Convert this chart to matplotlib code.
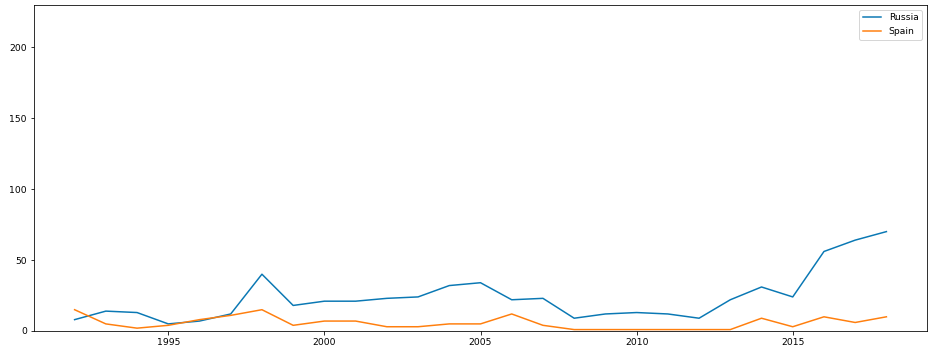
import matplotlib
matplotlib.use("Agg")
import matplotlib.pyplot as plt

years = list(range(1992, 2019))
russia = [8, 14, 13, 5, 7, 12, 40, 18, 21, 21, 23, 24, 32, 34, 22, 23, 9, 12, 13, 12, 9, 22, 31, 24, 56, 64, 70]
spain = [15, 5, 2, 4, 8, 11, 15, 4, 7, 7, 3, 3, 5, 5, 12, 4, 1, 1, 1, 1, 1, 1, 9, 3, 10, 6, 10]

dpi = 72
plt.rcParams["font.size"] = 9.3
fig = plt.figure(figsize=(932 / dpi, 352 / dpi), dpi=dpi)
ax = fig.add_axes([34 / 932, 1 - 331 / 352, (927 - 34) / 932, (331 - 5) / 352])
ax.plot(years, russia, color="#0a78b4", lw=1.5, label="Russia")
ax.plot(years, spain, color="#ff7f0e", lw=1.5, label="Spain")
ax.set_ylim(0, 229.6)
ax.set_yticks([0, 50, 100, 150, 200])
ax.set_xticks([1995, 2000, 2005, 2010, 2015])
ax.legend(loc="upper right")
fig.savefig("out.png", dpi=dpi)
